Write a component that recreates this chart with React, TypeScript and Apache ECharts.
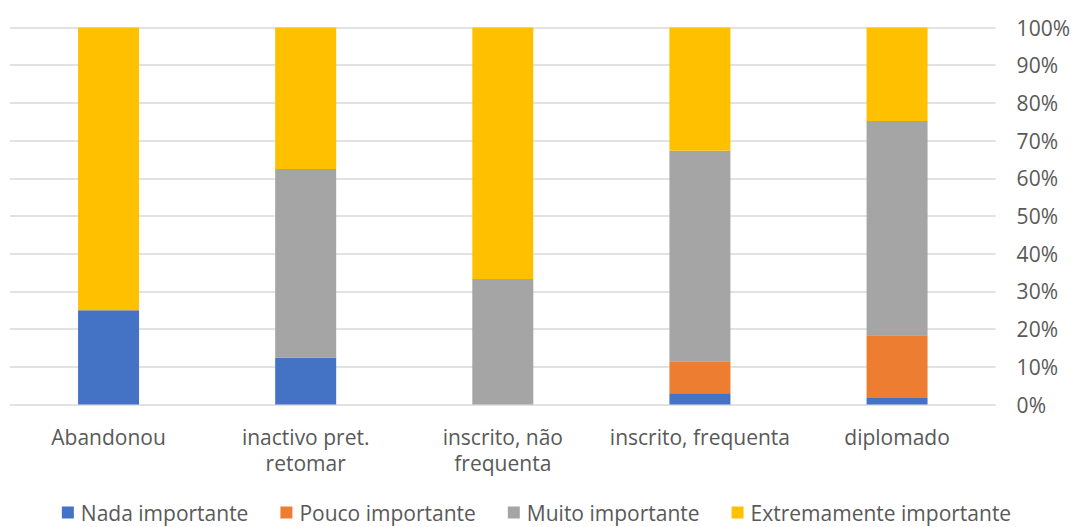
import React, { useEffect, useRef } from "react";
import * as echarts from "echarts";

// Share of answers (%) per student situation
const categories = [
  "Abandonou",
  "inactivo pret.\nretomar",
  "inscrito, não\nfrequenta",
  "inscrito, frequenta",
  "diplomado",
];
const seriesNames = [
  "Nada importante",
  "Pouco importante",
  "Muito importante",
  "Extremamente importante",
];
const nadaImportante = [25, 12.5, 0, 3.0, 1.7];
const poucoImportante = [0, 0, 0, 8.5, 16.7];
const muitoImportante = [0, 50, 33.3, 55.8, 56.8];
const extremamenteImportante = [75, 37.5, 66.7, 32.7, 24.8];
const yTicks = [0, 10, 20, 30, 40, 50, 60, 70, 80, 90, 100];

const colors = ["#4472C4", "#ED7D31", "#A5A5A5", "#FFC000"];
const FONT = "'Open Sans', sans-serif";
const TEXT = "#595959";

export default function App() {
  const ref = useRef<HTMLDivElement>(null);

  useEffect(() => {
    if (!ref.current) return;
    const chart = echarts.init(ref.current, null, { renderer: "svg" });
    const values = [nadaImportante, poucoImportante, muitoImportante, extremamenteImportante];
    chart.setOption({
      animation: false,
      color: colors,
      textStyle: { fontFamily: FONT },
      grid: { left: 10, right: 77, top: 27.5, bottom: 122.5, containLabel: false },
      legend: {
        top: 502,
        left: "center",
        padding: 0,
        icon: "rect",
        itemWidth: 12,
        itemHeight: 12,
        itemGap: 32,
        data: seriesNames,
        textStyle: { fontFamily: FONT, fontSize: 21, color: TEXT, padding: [0, 0, 0, 2] },
      },
      xAxis: {
        type: "category",
        data: categories,
        axisLine: { show: false },
        axisTick: { show: false },
        axisLabel: {
          fontFamily: FONT,
          fontSize: 21,
          color: TEXT,
          lineHeight: 26,
          margin: 19.5,
          interval: 0,
        },
      },
      yAxis: {
        type: "value",
        position: "right",
        min: 0,
        max: 100,
        interval: 10,
        axisLine: { show: false },
        axisTick: { show: false },
        splitLine: { lineStyle: { color: "#D9D9D9", width: 1.5 } },
        axisLabel: {
          fontFamily: FONT,
          fontSize: 21,
          color: TEXT,
          margin: 21,
          formatter: (v: number) => (yTicks.includes(v) ? `${v}%` : ""),
        },
      },
      series: seriesNames.map((name, i) => ({
        name,
        type: "bar",
        stack: "total",
        barWidth: 61,
        data: values[i],
        itemStyle: { color: colors[i] },
      })),
    });
    return () => chart.dispose();
  }, []);

  return (
    <div
      ref={ref}
      style={{ position: "absolute", left: 0, top: 0, width: 1073, height: 527 }}
    />
  );
}
